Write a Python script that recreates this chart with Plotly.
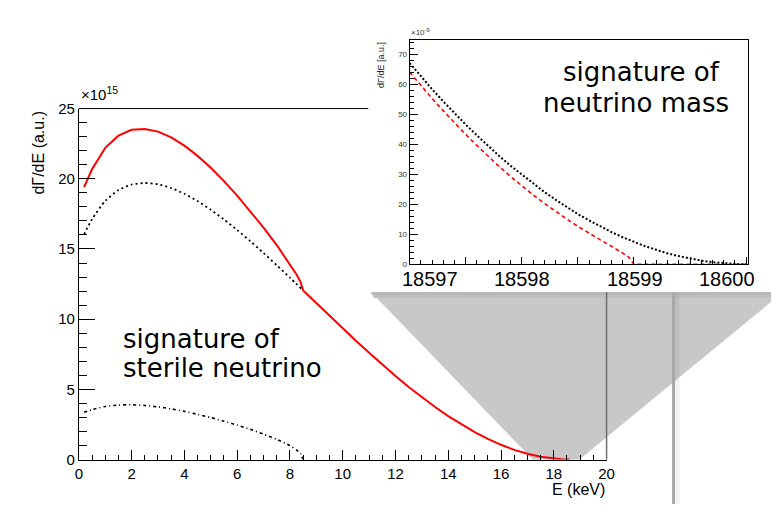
import plotly.graph_objects as go

W, H = 779, 512

# ---------------- data ----------------
# main panel: energy in keV, rates in units of 1e15
e_main = [0.2, 0.5, 1.0, 1.5, 2.0, 2.5, 3.0, 3.5, 4.0, 4.5, 5.0, 5.5, 6.0, 6.5,
          7.0, 7.5, 8.0, 8.25, 8.4, 8.5, 9.0, 9.5, 10.0, 10.5, 11.0, 11.5, 12.0,
          12.5, 13.0, 13.5, 14.0, 14.5, 15.0, 15.5, 16.0, 16.5, 17.0, 17.5, 18.0,
          18.3, 18.6]
rate_total = [19.41, 20.68, 22.20, 23.07, 23.49, 23.55, 23.36, 22.95, 22.36, 21.63,
              20.78, 19.83, 18.80, 17.70, 16.52, 15.28, 13.94, 13.18, 12.66, 12.05,
              11.15, 10.24, 9.34, 8.46, 7.60, 6.76, 5.95, 5.17, 4.43, 3.74, 3.09,
              2.49, 1.95, 1.47, 1.05, 0.69, 0.41, 0.195, 0.059, 0.015, 0.0]

e_active = [0.2, 0.5, 1.0, 1.5, 2.0, 2.5, 3.0, 3.5, 4.0, 4.5, 5.0, 5.5, 6.0, 6.5,
            7.0, 7.5, 8.0, 8.5]
rate_active = [16.05, 17.12, 18.42, 19.19, 19.59, 19.70, 19.61, 19.34, 18.93, 18.41,
               17.79, 17.10, 16.35, 15.55, 14.71, 13.84, 12.95, 12.05]

e_sterile = [0.2, 0.5, 1.0, 1.5, 2.0, 2.5, 3.0, 3.5, 4.0, 4.5, 5.0, 5.5, 6.0, 6.5,
             7.0, 7.5, 8.0, 8.25, 8.4, 8.5]
rate_sterile = [3.36, 3.56, 3.78, 3.88, 3.90, 3.85, 3.75, 3.61, 3.43, 3.22, 2.99,
                2.73, 2.45, 2.15, 1.81, 1.44, 0.99, 0.68, 0.43, 0.0]

# inset: energy in eV, rates in units of 1e-9
e_inset_m0 = [18597.0, 18597.1, 18597.2, 18597.3, 18597.4, 18597.5, 18597.6, 18597.7,
              18597.8, 18597.9, 18598.0, 18598.1, 18598.2, 18598.3, 18598.4, 18598.5,
              18598.6, 18598.7, 18598.8, 18598.9, 18599.0, 18599.1, 18599.2, 18599.3,
              18599.4, 18599.5, 18599.6, 18599.7, 18599.8, 18599.9, 18600.0]
rate_inset_m0 = [67.0, 62.6, 58.3, 54.2, 50.3, 46.5, 42.9, 39.4, 36.0, 32.8, 29.8,
                 26.9, 24.1, 21.5, 19.0, 16.7, 14.6, 12.6, 10.7, 9.0, 7.4, 6.0, 4.8,
                 3.6, 2.7, 1.9, 1.2, 0.7, 0.3, 0.1, 0.0]

e_inset_m1 = [18597.0, 18597.1, 18597.2, 18597.3, 18597.4, 18597.5, 18597.6, 18597.7,
              18597.8, 18597.9, 18598.0, 18598.1, 18598.2, 18598.3, 18598.4, 18598.5,
              18598.6, 18598.7, 18598.8, 18598.9, 18598.95, 18599.0, 18599.5, 18600.0]
rate_inset_m1 = [64.0, 59.5, 55.2, 51.1, 47.0, 43.2, 39.5, 35.9, 32.5, 29.2, 26.1,
                 23.1, 20.3, 17.6, 15.1, 12.6, 10.3, 8.1, 6.0, 3.8, 2.5, 0.0, 0.0, 0.0]

main_xticks = [0, 2, 4, 6, 8, 10, 12, 14, 16, 18, 20]
inset_xlabels = ["18597", "18598", "18599", "18600"]


def px(x):
    return x / W


def py(y):
    return 1 - y / H


fig = go.Figure()

fig.add_trace(go.Scatter(x=e_active, y=rate_active, mode="lines",
                         line=dict(color="black", width=1.8, dash="2px,3px",
                                   shape="spline", smoothing=0.6),
                         xaxis="x", yaxis="y", showlegend=False))
fig.add_trace(go.Scatter(x=e_sterile, y=rate_sterile, mode="lines",
                         line=dict(color="black", width=1.6, dash="3px,3px,1px,3px",
                                   shape="spline", smoothing=0.6),
                         xaxis="x", yaxis="y", showlegend=False))
fig.add_trace(go.Scatter(x=e_main, y=rate_total, mode="lines",
                         line=dict(color="#ff0000", width=2),
                         xaxis="x", yaxis="y", showlegend=False))

fig.add_trace(go.Scatter(x=e_inset_m0, y=rate_inset_m0, mode="lines",
                         line=dict(color="black", width=2, dash="2px,2px"),
                         xaxis="x2", yaxis="y2", showlegend=False))
fig.add_trace(go.Scatter(x=e_inset_m1, y=rate_inset_m1, mode="lines",
                         line=dict(color="#ff0000", width=1.6, dash="4px,3px"),
                         xaxis="x2", yaxis="y2", showlegend=False))

tick_font = dict(family="Liberation Sans, Arial, sans-serif", size=15, color="black")

fig.update_layout(
    width=W, height=H, autosize=False,
    margin=dict(l=0, r=0, t=0, b=0),
    paper_bgcolor="white",
    plot_bgcolor="rgba(0,0,0,0)",
    xaxis=dict(domain=[px(76), px(612)], range=[0, 20], anchor="y",
               showline=True, linecolor="black", linewidth=1,
               ticks="inside", ticklen=10, tickwidth=1, tickcolor="black",
               tickvals=main_xticks, tickfont=tick_font,
               minor=dict(dtick=0.5, ticks="inside", ticklen=5, tickcolor="black"),
               showgrid=False, zeroline=False),
    yaxis=dict(domain=[py(466), py(103)], range=[0, 25], anchor="x",
               showline=True, linecolor="black", linewidth=1,
               ticks="inside", ticklen=16, tickwidth=1, tickcolor="black",
               dtick=5, tick0=0, tickfont=tick_font,
               minor=dict(dtick=1, ticks="inside", ticklen=8, tickcolor="black"),
               showgrid=False, zeroline=False),
    xaxis2=dict(domain=[px(412), px(756)], range=[18597, 18600.02], anchor="y2",
                showline=True, mirror=True, linecolor="black", linewidth=1,
                ticks="inside", ticklen=7, tickwidth=1, tickcolor="black",
                dtick=0.5, tick0=18597, showticklabels=False,
                minor=dict(dtick=0.1, ticks="inside", ticklen=4, tickcolor="black"),
                showgrid=False, zeroline=False),
    yaxis2=dict(domain=[py(264), py(32)], range=[0, 74.7], anchor="x2",
                showline=True, mirror=True, linecolor="black", linewidth=1,
                ticks="inside", ticklen=8, tickwidth=1, tickcolor="black",
                dtick=10, tick0=0,
                tickfont=dict(family="Liberation Sans, Arial, sans-serif", size=8, color="#333"),
                minor=dict(dtick=2, ticks="inside", ticklen=4, tickcolor="black"),
                showgrid=False, zeroline=False),
)

shapes = []
# white zoom panel
shapes.append(dict(type="rect", xref="paper", yref="paper", layer="below",
                   x0=px(370), x1=px(779), y0=py(293), y1=py(0),
                   fillcolor="white", line=dict(width=0)))
# gray zoom cone
path = "M {} {} L {} {} L {} {} L {} {} L {} {} Z".format(
    px(373), py(293), px(779), py(293), px(779), py(303),
    px(584.5), py(466), px(537), py(466))
shapes.append(dict(type="path", xref="paper", yref="paper", layer="below",
                   path=path, fillcolor="#c8c8c8", line=dict(width=0)))
# panel shadow (soft)
shapes.append(dict(type="rect", xref="paper", yref="paper", layer="below",
                   x0=px(373), x1=px(779), y0=py(295.5), y1=py(293),
                   fillcolor="#b4b4b4", line=dict(width=0)))
shapes.append(dict(type="rect", xref="paper", yref="paper", layer="below",
                   x0=px(375), x1=px(779), y0=py(299), y1=py(295.5),
                   fillcolor="#bfbfbf", line=dict(width=0)))
# vertical shadow
shapes.append(dict(type="rect", xref="paper", yref="paper", layer="below",
                   x0=px(678.5), x1=px(681.5), y0=py(512), y1=py(293),
                   fillcolor="#a8a8a8", line=dict(width=0)))
shapes.append(dict(type="rect", xref="paper", yref="paper", layer="below",
                   x0=px(681.5), x1=px(686), y0=py(512), y1=py(293),
                   fillcolor="rgba(0,0,0,0.05)", line=dict(width=0)))
# main frame top and right
shapes.append(dict(type="line", xref="paper", yref="paper", layer="above",
                   x0=px(76), x1=px(370), y0=py(103), y1=py(103),
                   line=dict(color="black", width=1)))
shapes.append(dict(type="line", xref="paper", yref="paper", layer="above",
                   x0=px(612), x1=px(612), y0=py(466), y1=py(293),
                   line=dict(color="#6e6e6e", width=1.5)))
fig.update_layout(shapes=shapes)

ann = []
big = dict(family="DejaVu Sans, Verdana, sans-serif", size=26, color="black")
ann.append(dict(text="×10<sup>15</sup>", x=px(76), y=py(99), xanchor="left", yanchor="bottom",
                font=tick_font))
ann.append(dict(text="dΓ/dE (a.u.)", x=px(35), y=py(148), xanchor="center", yanchor="middle",
                textangle=-90, font=dict(family="Liberation Sans, Arial, sans-serif", size=16, color="black")))
ann.append(dict(text="E (keV)", x=px(612), y=py(497), xanchor="right", yanchor="middle",
                font=dict(family="Liberation Sans, Arial, sans-serif", size=16, color="black")))
ann.append(dict(text="signature of", x=px(119), y=py(341), xanchor="left", yanchor="middle", font=big))
ann.append(dict(text="sterile neutrino", x=px(119), y=py(371), xanchor="left", yanchor="middle", font=big))
ann.append(dict(text="signature of", x=px(647), y=py(65), xanchor="center", yanchor="middle", font=big))
ann.append(dict(text="neutrino mass", x=px(642), y=py(97), xanchor="center", yanchor="middle", font=big))
for lab, cx in zip(inset_xlabels, [433, 526, 641, 734]):
    ann.append(dict(text=lab, x=px(cx), y=py(279), xanchor="center", yanchor="middle",
                    font=dict(family="Liberation Sans, Arial, sans-serif", size=20, color="black")))
ann.append(dict(text="×10<sup>-9</sup>", x=px(411), y=py(31), xanchor="left", yanchor="bottom",
                font=dict(family="Liberation Sans, Arial, sans-serif", size=8, color="#333")))
ann.append(dict(text="dΓ/dE [a.u.]", x=px(383), y=py(32), xanchor="center", yanchor="top",
                textangle=-90, font=dict(family="Liberation Sans, Arial, sans-serif", size=9, color="#222")))
for a in ann:
    a.update(xref="paper", yref="paper", showarrow=False)
fig.update_layout(annotations=ann)

fig.write_html("out.html")
